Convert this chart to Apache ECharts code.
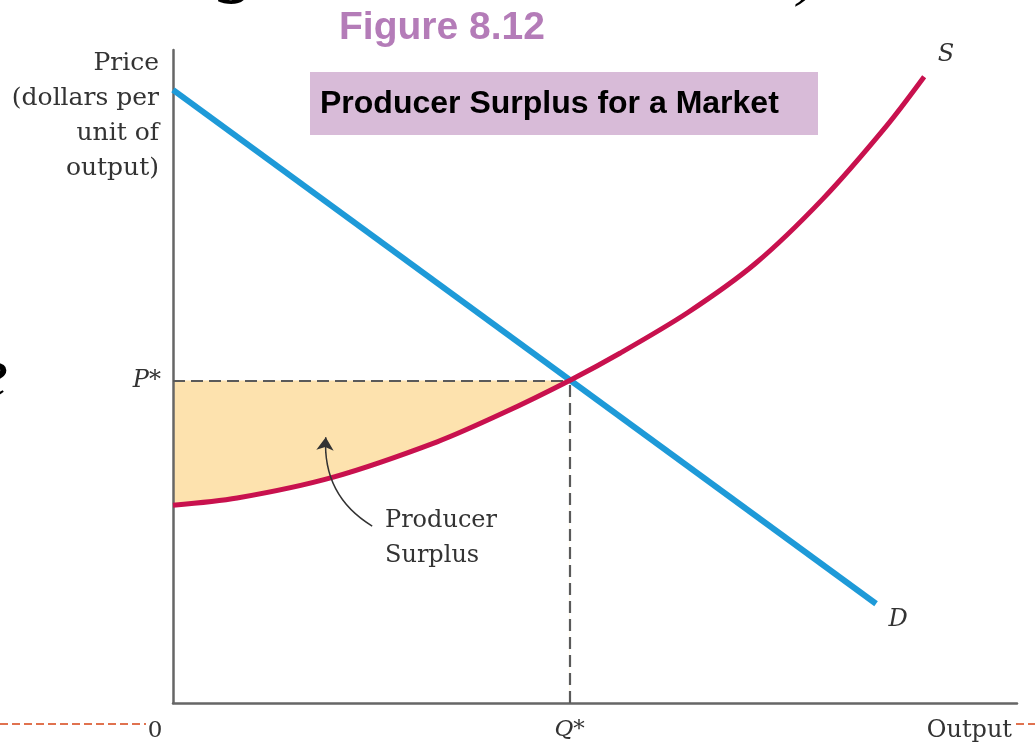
<!DOCTYPE html>
<html>
<head>
<meta charset="utf-8">
<script src="https://cdn.jsdelivr.net/npm/echarts@6/dist/echarts.min.js"></script>
<style>
  html, body { margin: 0; padding: 0; background: #fff; }
  #chart { width: 1035px; height: 747px; }
</style>
</head>
<body>
<div id="chart"></div>
<script>
// market values (output 0-100, price 0-100)
const supplyQ = [0, 7.6, 19, 31.3, 39.1, 47, 53, 61, 69, 77, 84.5, 89];
const supplyP = [30.3, 31.4, 34.6, 40.0, 44.4, 49.4, 53.6, 59.8, 67.3, 77.2, 88.3, 95.9];
const demandQ = [0, 83.3];
const demandP = [93.9, 15.2];
const Q_STAR = 47;
const P_STAR = 49.4;
// arrow from the "Producer Surplus" note into the shaded area
const arrowFrom = [23.6, 27.1];
const arrowTo = [18.1, 40.7];

const serif = 'DejaVu Serif';
const sans = 'Liberation Sans';

const supply = supplyQ.map((q, i) => [q, supplyP[i]]);
const demand = demandQ.map((q, i) => [q, demandP[i]]);
// surplus = area between P* and the supply curve, 0..Q*
const priceLine = [[0, P_STAR], [Q_STAR, P_STAR]];
const supplyToQ = supply.filter(d => d[0] <= Q_STAR);

const chart = echarts.init(document.getElementById('chart'));

chart.setOption({
  animation: false,
  grid: { left: 173, top: 50, right: 18, bottom: 44 },
  xAxis: {
    type: 'value',
    min: 0,
    max: 100,
    z: 3,
    name: 'Output',
    nameLocation: 'end',
    nameGap: -5,
    nameTextStyle: {
      fontFamily: serif, fontSize: 24, color: '#333',
      align: 'right', verticalAlign: 'top', padding: [16, 0, 0, 0]
    },
    axisLine: { show: true, lineStyle: { color: '#666', width: 2.5 } },
    axisTick: { show: false },
    splitLine: { show: false },
    axisLabel: {
      customValues: [Q_STAR],
      formatter: () => 'Q*',
      margin: 16,
      fontFamily: serif, fontStyle: 'italic', fontSize: 23, color: '#333'
    }
  },
  yAxis: {
    type: 'value',
    min: 0,
    max: 100,
    z: 3,
    name: 'Price\n(dollars per\nunit of\noutput)',
    nameLocation: 'end',
    nameGap: 4,
    nameTextStyle: {
      fontFamily: serif, fontSize: 25, color: '#333', lineHeight: 35,
      align: 'right', verticalAlign: 'top', padding: [0, 14, 0, 0]
    },
    axisLine: { show: true, lineStyle: { color: '#666', width: 2.5 } },
    axisTick: { show: false },
    splitLine: { show: false },
    axisLabel: {
      customValues: [P_STAR],
      formatter: () => 'P*',
      margin: 12,
      fontFamily: serif, fontStyle: 'italic', fontSize: 24, color: '#333'
    }
  },
  series: [
    {
      name: 'Producer Surplus',
      type: 'line',
      data: priceLine,
      symbol: 'none',
      lineStyle: { opacity: 0 },
      areaStyle: { color: '#fde2ae', opacity: 1 },
      silent: true,
      z: 0
    },
    {
      name: 'under supply',
      type: 'line',
      data: supplyToQ,
      smooth: 0.3,
      symbol: 'none',
      lineStyle: { opacity: 0 },
      areaStyle: { color: '#ffffff', opacity: 1 },
      silent: true,
      z: 1
    },
    {
      name: 'D',
      type: 'line',
      data: demand,
      symbol: 'none',
      lineStyle: { color: '#1e9ad8', width: 6 },
      z: 4,
      markLine: {
        silent: true,
        symbol: 'none',
        label: { show: false },
        lineStyle: { color: '#5a5a5a', width: 2.2, type: [12, 6] },
        data: [
          [{ coord: [0, P_STAR] }, { coord: [Q_STAR, P_STAR] }],
          [{ coord: [Q_STAR, 0] }, { coord: [Q_STAR, P_STAR] }]
        ]
      }
    },
    {
      name: 'S',
      type: 'line',
      data: supply,
      smooth: 0.3,
      symbol: 'none',
      lineStyle: { color: '#c8114e', width: 5 },
      z: 5
    },
    {
      name: 'arrow',
      type: 'lines',
      coordinateSystem: 'cartesian2d',
      symbol: ['none', 'arrow'],
      symbolSize: 13,
      lineStyle: { color: '#333', width: 1.5, curveness: 0.3, opacity: 1 },
      data: [{ coords: [arrowFrom, arrowTo] }],
      silent: true,
      z: 6
    }
  ],
  graphic: [
    {
      type: 'text', left: 339, top: 9,
      style: { text: 'Figure 8.12', font: 'bold 39px ' + sans, fill: '#b47cb8' }
    },
    {
      type: 'rect', shape: { x: 310, y: 72, width: 508, height: 63 },
      style: { fill: '#d8bbd8' }, z: 0
    },
    {
      type: 'text', x: 320, y: 104,
      style: {
        text: 'Producer Surplus for a Market', font: 'bold 32px ' + sans,
        fill: '#000', textVerticalAlign: 'middle'
      }
    },
    {
      type: 'text', x: 946, y: 55,
      style: {
        text: 'S', font: 'italic 24px ' + serif, fill: '#333',
        textAlign: 'center', textVerticalAlign: 'middle'
      }
    },
    {
      type: 'text', x: 898, y: 620,
      style: {
        text: 'D', font: 'italic 24px ' + serif, fill: '#333',
        textAlign: 'center', textVerticalAlign: 'middle'
      }
    },
    {
      type: 'text', x: 155, y: 731,
      style: {
        text: '0', font: '23px ' + serif, fill: '#333',
        textAlign: 'center', textVerticalAlign: 'middle'
      }
    },
    {
      type: 'text', x: 385, y: 538, z: 10,
      style: {
        text: 'Producer\nSurplus', font: '24px ' + serif, fill: '#333',
        lineHeight: 35, textVerticalAlign: 'middle'
      }
    },
    // slide leftovers around the figure
    {
      type: 'line', shape: { x1: 0, y1: 724, x2: 146, y2: 724 },
      style: { stroke: '#e0724f', lineWidth: 2, lineDash: [8, 4] }
    },
    {
      type: 'line', shape: { x1: 1016, y1: 724, x2: 1035, y2: 724 },
      style: { stroke: '#e0724f', lineWidth: 2, lineDash: [8, 4] }
    },
    {
      type: 'text', x: 238, y: -34,
      style: {
        text: 'g', font: 'italic 80px Liberation Serif', fill: '#000',
        textAlign: 'center', textVerticalAlign: 'middle'
      }
    },
    {
      type: 'text', x: 808, y: -22,
      style: {
        text: ')', font: 'italic 60px Liberation Serif', fill: '#000',
        textAlign: 'center', textVerticalAlign: 'middle'
      }
    },
    {
      type: 'text', x: -8, y: 378,
      style: {
        text: 'e', font: 'italic 72px Liberation Serif', fill: '#000',
        textAlign: 'center', textVerticalAlign: 'middle'
      }
    }
  ]
});
</script>
</body>
</html>
